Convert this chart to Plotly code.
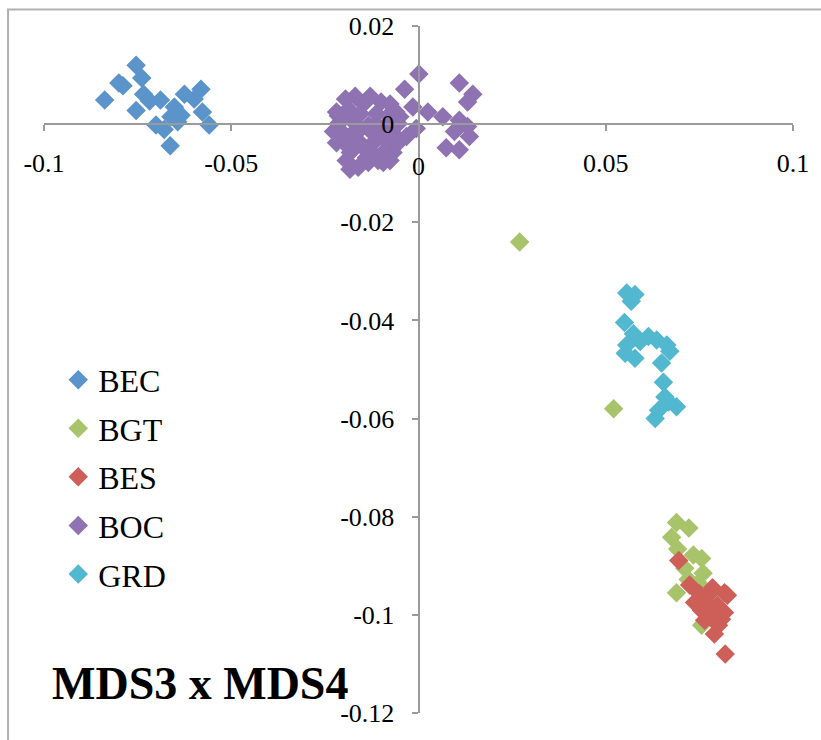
import plotly.graph_objects as go

# MDS coordinates (dimension 3 on x, dimension 4 on y) per population
bec_x = [-0.0754, -0.0739, -0.0800, -0.0789, -0.0838, -0.0734, -0.0718, -0.0754, -0.0689, -0.0701,
         -0.0679, -0.0663, -0.0625, -0.0581, -0.0599, -0.0652, -0.0634, -0.0661, -0.0577, -0.0559, -0.0643]
bec_y = [0.0120, 0.0094, 0.0084, 0.0078, 0.0049, 0.0061, 0.0047, 0.0028, 0.0049, -0.0002,
         -0.0011, -0.0044, 0.0061, 0.0071, 0.0051, 0.0035, 0.0018, 0.0015, 0.0025, -0.0002, 0.0005]

bgt_x = [0.0270, 0.0521, 0.0689, 0.0722, 0.0676, 0.0692, 0.0734, 0.0756, 0.0711, 0.0760,
         0.0720, 0.0689, 0.0747, 0.0813, 0.0756, 0.0791]
bgt_y = [-0.0240, -0.0580, -0.0812, -0.0823, -0.0842, -0.0866, -0.0878, -0.0885, -0.0905, -0.0915,
         -0.0928, -0.0955, -0.0935, -0.0996, -0.1021, -0.0975]

bes_x = [0.0695, 0.0724, 0.0750, 0.0785, 0.0817, 0.0825, 0.0737, 0.0769, 0.0798, 0.0817,
         0.0756, 0.0782, 0.0809, 0.0790, 0.0819, 0.0774, 0.0801, 0.0764]
bes_y = [-0.0889, -0.0939, -0.0957, -0.0945, -0.0955, -0.0960, -0.0975, -0.0975, -0.0981, -0.0995,
         -0.0991, -0.1001, -0.1009, -0.1039, -0.1080, -0.0959, -0.1021, -0.1011]

boc_x = [0.0001, -0.0037, 0.0109, 0.0145, 0.0131, 0.0025, -0.0015, 0.0065, 0.0109, 0.0131,
         0.0096, 0.0136, 0.0074, 0.0109, -0.0006, -0.0032, -0.0050, -0.0183,
         -0.0187, -0.0147, -0.0113, -0.0081, -0.0214, -0.0174, -0.0134, -0.0094, -0.0068, -0.0201,
         -0.0161, -0.0121, -0.0081, -0.0182, -0.0139, -0.0108, -0.0068, -0.0206, -0.0161, -0.0121,
         -0.0193, -0.0155, -0.0089, -0.0054, -0.0129, -0.0100, -0.0169, -0.0214, -0.0094,
         -0.0219, -0.0195, -0.0129, -0.0076, -0.0060, -0.0227, -0.0219, -0.0193, -0.0161,
         -0.0147, -0.0113, -0.0094, -0.0076, -0.0054, -0.0171, -0.0134, -0.0201]
boc_y = [0.0102, 0.0071, 0.0084, 0.0061, 0.0045, 0.0025, 0.0035, 0.0015, 0.0008, -0.0005,
         -0.0015, -0.0025, -0.0048, -0.0052, -0.0009, -0.0025, 0.0015, -0.0092,
         0.0031, 0.0041, 0.0021, 0.0017, 0.0001, 0.0005, -0.0003, -0.0009, -0.0019, -0.0028,
         -0.0034, -0.0038, -0.0048, -0.0058, -0.0068, -0.0074, -0.0058, -0.0015, -0.0015, -0.0019,
         -0.0042, 0.0021, -0.0032, 0.0001, -0.0054, 0.0045, 0.0057, 0.0017, -0.0078,
         0.0025, 0.0051, 0.0057, 0.0041, 0.0025, -0.0015, -0.0038, -0.0074, -0.0088,
         -0.0048, 0.0001, -0.0058, -0.0074, -0.0038, -0.0015, -0.0078, 0.0011]

grd_x = [0.0556, 0.0578, 0.0568, 0.0550, 0.0574, 0.0614, 0.0636, 0.0663, 0.0671, 0.0556,
         0.0552, 0.0578, 0.0592, 0.0649, 0.0654, 0.0658, 0.0689, 0.0641, 0.0632, 0.0668]
grd_y = [-0.0344, -0.0347, -0.0361, -0.0404, -0.0427, -0.0433, -0.0440, -0.0450, -0.0463, -0.0450,
         -0.0467, -0.0477, -0.0443, -0.0487, -0.0526, -0.0556, -0.0576, -0.0583, -0.0600, -0.0566]

x_ticks = [-0.1, -0.05, 0, 0.05, 0.1]
x_tick_text = ["-0.1", "-0.05", "0", "0.05", "0.1"]
y_ticks = [0.02, 0, -0.02, -0.04, -0.06, -0.08, -0.1, -0.12]
y_tick_text = ["0.02", "0", "-0.02", "-0.04", "-0.06", "-0.08", "-0.1", "-0.12"]

series = [
    ("BEC", bec_x, bec_y, "#5a94cb"),
    ("BGT", bgt_x, bgt_y, "#a7c46b"),
    ("BES", bes_x, bes_y, "#cd5f58"),
    ("BOC", boc_x, boc_y, "#8e72b1"),
    ("GRD", grd_x, grd_y, "#52b8d0"),
]

SERIF = "Liberation Serif"
AXIS_GRAY = "#9a9a9a"
TICK_FONT = dict(family=SERIF, size=26, color="black")

fig = go.Figure()
for name, xs, ys, color in series:
    fig.add_trace(go.Scatter(
        x=xs, y=ys, mode="markers", name=name, legendgroup=name,
        marker=dict(symbol="diamond", size=15, color=color, line=dict(width=0)),
    ))

x_min, x_max = -0.1, 0.1
y_min, y_max = -0.12, 0.02

# plotly drops the x label that sits on the crossing y-axis line,
# so that one label is written separately below the origin
x_axis_text = [("" if v == 0 else t) for v, t in zip(x_ticks, x_tick_text)]

fig.update_layout(
    width=821, height=740,
    margin=dict(l=44, r=24, t=20, b=17),
    paper_bgcolor="white", plot_bgcolor="white",
    font=dict(family=SERIF, color="black", size=26),
    showlegend=True,
    legend=dict(
        x=0.019, y=0.525, xanchor="left", yanchor="top",
        font=dict(family=SERIF, size=32, color="black"),
        bgcolor="rgba(0,0,0,0)", borderwidth=0,
        tracegroupgap=4, itemclick=False,
    ),
    xaxis=dict(
        range=[x_min, x_max], anchor="free",
        position=(0 - y_min) / (y_max - y_min),
        showgrid=False, zeroline=False,
        showline=True, linecolor=AXIS_GRAY, linewidth=2,
        ticks="outside", ticklen=6, tickwidth=2, tickcolor=AXIS_GRAY,
        tickvals=x_ticks, ticktext=x_axis_text, ticklabelstandoff=10,
        tickfont=TICK_FONT,
    ),
    yaxis=dict(
        range=[y_min, y_max], anchor="free",
        position=(0 - x_min) / (x_max - x_min),
        showgrid=False, zeroline=False,
        showline=True, linecolor=AXIS_GRAY, linewidth=2,
        ticks="outside", ticklen=6, tickwidth=2, tickcolor=AXIS_GRAY,
        tickvals=y_ticks, ticktext=y_tick_text, ticklabelstandoff=12,
        tickfont=TICK_FONT,
    ),
)

for v, t in zip(x_ticks, x_tick_text):
    if v == 0:
        fig.add_annotation(
            text=t, x=v, y=0, xref="x", yref="y",
            xanchor="center", yanchor="middle", yshift=-42,
            showarrow=False, font=TICK_FONT,
        )

# chart-area frame (left and top edges visible, the rest runs off the page)
fig.add_shape(type="rect", xref="paper", yref="paper",
              x0=-0.048, x1=1.2, y0=-0.2, y1=1.024,
              line=dict(color="#b0b0b0", width=2), fillcolor="rgba(0,0,0,0)", layer="below")

fig.add_annotation(
    text="<b>MDS3 x MDS4</b>", xref="paper", yref="paper",
    x=0.008, y=0.043, xanchor="left", yanchor="middle", showarrow=False,
    font=dict(family=SERIF, size=46, color="black"),
)

fig.write_html("out.html")
